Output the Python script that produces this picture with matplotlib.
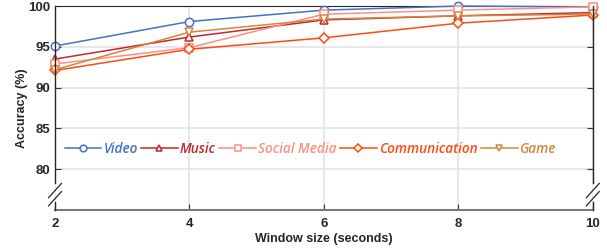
import matplotlib
matplotlib.use("Agg")
from matplotlib import pyplot as plt

window = [2, 4, 6, 8, 10]
video = [95.1, 98.1, 99.5, 100.0, 99.9]
music = [93.5, 96.2, 98.3, 98.8, 99.2]
social = [92.9, 94.9, 99.0, 99.5, 99.9]
communication = [92.1, 94.7, 96.1, 97.9, 98.9]
game = [92.2, 96.8, 98.4, 98.8, 99.0]

labels = ["Video", "Music", "Social Media", "Communication", "Game"]
colors = ["#4472C4", "#C0282D", "#FF8F80", "#FF4A10", "#D4873C"]
markers = ["o", "^", "s", "D", "v"]
msizes = [6, 6, 6, 5, 6]

plt.rcParams["font.family"] = ["Liberation Sans", "DejaVu Sans"]

fig = plt.figure(figsize=(6.07, 2.52), dpi=100)
ax = fig.add_axes([0.0906, 0.167, 0.886, 0.809])

for vals, lab, c, m, ms in zip([video, music, social, communication, game],
                               labels, colors, markers, msizes):
    ax.plot(window, vals, color=c, marker=m, markersize=ms, markerfacecolor="white",
            markeredgecolor=c, markeredgewidth=1.1, linewidth=1.1, label=lab,
            clip_on=False, zorder=3)

ax.set_xlim(2, 10)
ax.set_ylim(75, 100)
ax.set_xticks(window)
ax.set_yticks([80, 85, 90, 95, 100])
ax.grid(True, color="#e3e3e3", linewidth=1.2)
ax.tick_params(axis="both", labelsize=9.5, direction="in", length=4, color="#333333",
               right=True, top=False)
for t in ax.get_xticklabels() + ax.get_yticklabels():
    t.set_fontweight("bold")
    t.set_color("#262626")
ax.tick_params(axis="x", pad=6)

ax.spines["top"].set_color("#262626")
ax.spines["right"].set_visible(False)
ax.spines["left"].set_visible(False)
ax.spines["bottom"].set_color("#7a7a7a")
ax.spines["bottom"].set_linewidth(1.5)

# broken y axis on both sides
gap_lo, gap_hi = 0.04, 0.13
for xs in (0, 1):
    ax.plot([xs, xs], [0, gap_lo], transform=ax.transAxes, color="#262626",
            linewidth=1.0, clip_on=False, zorder=4)
    ax.plot([xs, xs], [gap_hi, 1], transform=ax.transAxes, color="#262626",
            linewidth=1.0, clip_on=False, zorder=4)
    for dy in (0.055, 0.095):
        ax.plot([xs - 0.012, xs + 0.012], [dy - 0.035, dy + 0.035], transform=ax.transAxes,
                color="#262626", linewidth=0.9, clip_on=False, zorder=4)

ax.set_xlabel("Window size (seconds)", fontsize=9, fontweight="bold", color="#262626",
              labelpad=2)
ax.set_ylabel("Accuracy (%)", fontsize=9, fontweight="bold", color="#262626", labelpad=0)

leg = ax.legend(loc="center left", bbox_to_anchor=(0.0, 0.30), ncol=5, frameon=False,
                handlelength=2.7, handletextpad=0.15, columnspacing=0.25, borderaxespad=0.3,
                markerscale=0.8,
                prop={"family": "Open Sans", "style": "italic", "weight": 600, "size": 9.8})
for txt, c in zip(leg.get_texts(), colors):
    txt.set_color(c)

fig.savefig("out.png", dpi=100)
